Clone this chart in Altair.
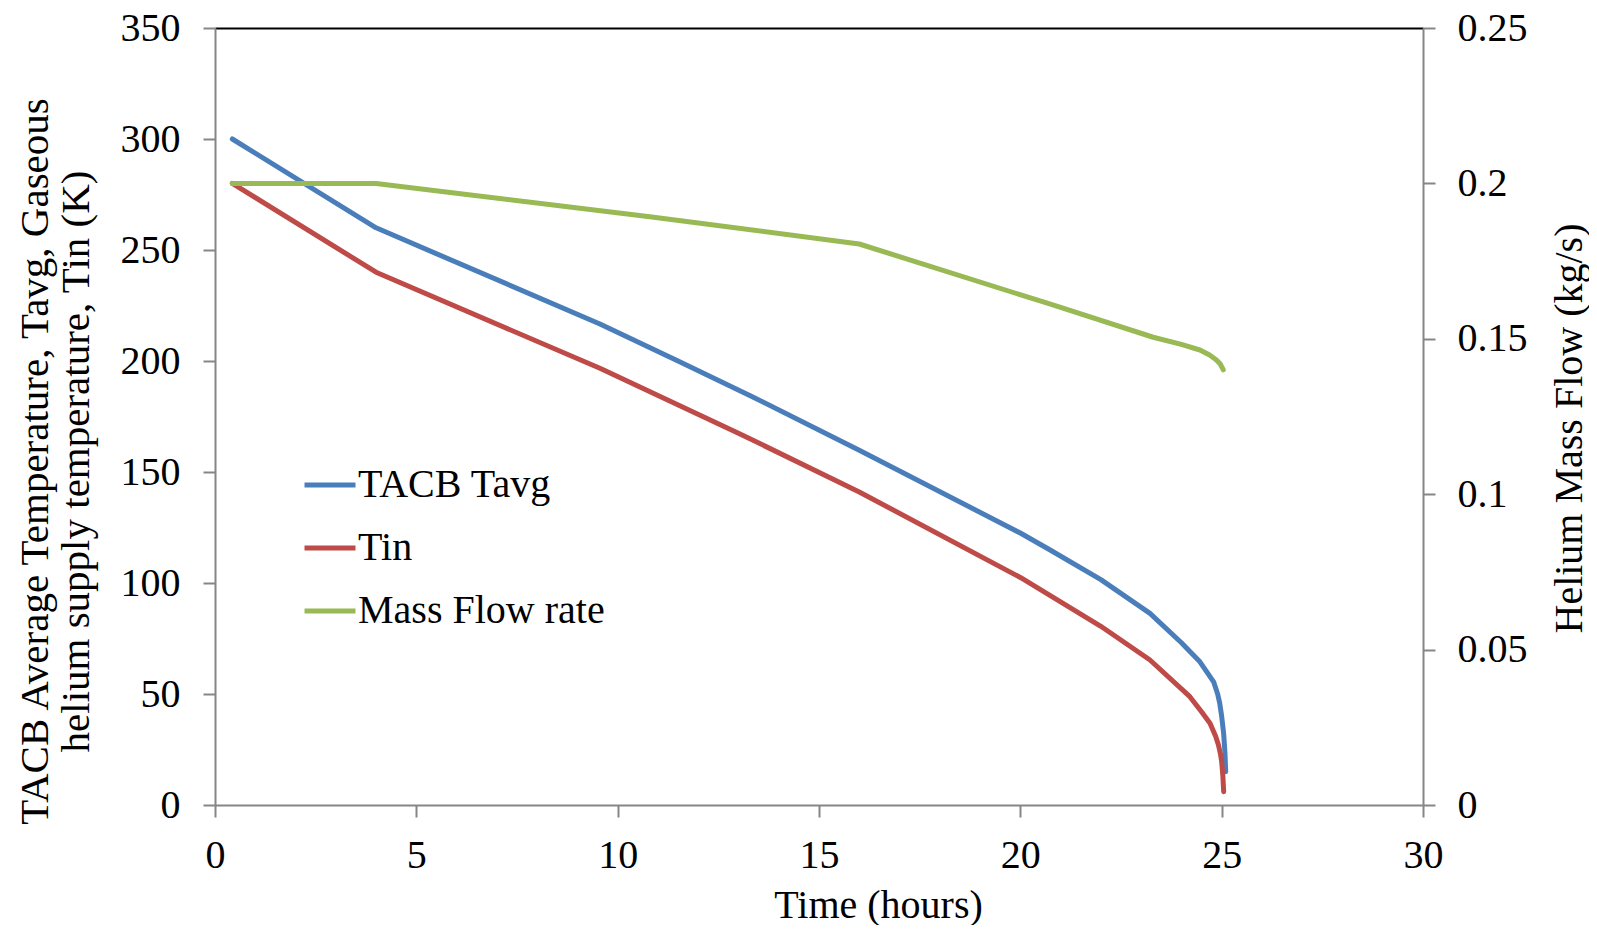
import altair as alt
import pandas as pd

# ---- data ----
t_avg_hours = [0.43, 4.0, 9.56, 11.5, 13.28, 16.0, 20.0, 20.73, 22.0, 23.22, 24.0, 24.46, 24.8, 24.9, 24.95, 25.0, 25.05, 25.08, 25.1]
t_avg_vals  = [300, 260, 216.7, 200, 184.5, 159.8, 122.5, 115, 101.5, 86.3, 73.1, 64.5, 55.5, 50.0, 46.0, 40.0, 32.0, 24.0, 15.0]

t_in_hours = [0.43, 4.0, 9.56, 13.0, 16.0, 20.0, 22.0, 23.22, 24.21, 24.5, 24.71, 24.85, 24.92, 24.97, 25.0, 25.03, 25.05]
t_in_vals  = [280, 240, 196.7, 167.5, 141.0, 102.5, 80.5, 65.3, 48.8, 42.0, 36.8, 31.0, 27.0, 23.0, 19.5, 13.0, 6.0]

flow_hours = [0.43, 4.0, 10.8, 16.0, 20.73, 23.3, 24.0, 24.46, 24.7, 24.87, 24.97, 25.04]
flow_vals  = [0.2, 0.2, 0.1893, 0.1805, 0.1612, 0.1505, 0.1482, 0.1464, 0.1448, 0.1432, 0.1418, 0.140]

series_names = ["TACB Tavg", "Tin", "Mass Flow rate"]
series_colors = ["#4A7EBB", "#BE4B48", "#98B954"]

x_ticks = [0, 5, 10, 15, 20, 25, 30]
left_ticks = [0, 50, 100, 150, 200, 250, 300, 350]
right_ticks = [0, 0.05, 0.1, 0.15, 0.2, 0.25]

temp_df = pd.concat([
    pd.DataFrame({"hours": t_avg_hours, "value": t_avg_vals, "series": series_names[0], "order": range(len(t_avg_hours))}),
    pd.DataFrame({"hours": t_in_hours, "value": t_in_vals, "series": series_names[1], "order": range(len(t_in_hours))}),
])
flow_df = pd.DataFrame({"hours": flow_hours, "flow": flow_vals, "series": series_names[2], "order": range(len(flow_hours))})

FONT = "Liberation Serif"
GRAY = "#868686"
FS = 40

color = alt.Color(
    "series:N",
    scale=alt.Scale(domain=series_names, range=series_colors),
    legend=alt.Legend(
        title=None, orient="none", legendX=87, legendY=429,
        symbolType="stroke", symbolSize=2600, symbolStrokeWidth=5,
        labelFont=FONT, labelFontSize=FS, labelColor="black", labelLimit=0,
        labelOffset=0, rowPadding=15, padding=0,
    ),
)

x_bottom = alt.X(
    "hours:Q",
    scale=alt.Scale(domain=[0, 30], nice=False),
    axis=alt.Axis(
        values=x_ticks, title="Time (hours)", grid=False, labelFlush=False,
        tickSize=12, tickColor=GRAY, tickWidth=2, domainColor=GRAY, domainWidth=2,
        labelFont=FONT, labelFontSize=FS, labelColor="black", labelPadding=18,
        titleFont=FONT, titleFontSize=FS, titleFontWeight="normal", titleColor="black",
        titleX=663, titleY=112, titleBaseline="alphabetic",
    ),
)

x_top = alt.X(
    "hours:Q",
    scale=alt.Scale(domain=[0, 30], nice=False),
    axis=alt.Axis(
        orient="top", title=None, labels=False, ticks=False, grid=False,
        domainColor="black", domainWidth=2,
    ),
)

temp = alt.Chart(temp_df).mark_line(strokeWidth=5, strokeCap="round", strokeJoin="round").encode(
    x=x_bottom,
    y=alt.Y(
        "value:Q",
        scale=alt.Scale(domain=[0, 350], nice=False),
        axis=alt.Axis(
            values=left_ticks, orient="left", grid=False, labelFlush=False,
            title=["TACB Average Temperature, Tavg, Gaseous", "helium supply temperature, Tin (K)"],
            tickSize=12, tickColor=GRAY, tickWidth=2, domainColor=GRAY, domainWidth=2,
            labelFont=FONT, labelFontSize=FS, labelColor="black", labelPadding=23,
            titleFont=FONT, titleFontSize=41, titleFontWeight="normal", titleColor="black",
            titleAngle=270, titleBaseline="middle", titleAlign="center",
            titleX=-180, titleY=433, titleLineHeight=41,
        ),
    ),
    color=color,
    order="order:Q",
)

flow = alt.Chart(flow_df).mark_line(strokeWidth=5, strokeCap="round", strokeJoin="round").encode(
    x=x_top,
    y=alt.Y(
        "flow:Q",
        scale=alt.Scale(domain=[0, 0.25], nice=False),
        axis=alt.Axis(
            values=right_ticks, orient="right", grid=False, format="~g", labelFlush=False,
            title="Helium Mass Flow (kg/s)",
            tickSize=12, tickColor=GRAY, tickWidth=2, domainColor=GRAY, domainWidth=2,
            labelFont=FONT, labelFontSize=FS, labelColor="black", labelPadding=22,
            titleFont=FONT, titleFontSize=FS, titleFontWeight="normal", titleColor="black",
            titleAngle=270, titleBaseline="middle", titleAlign="center",
            titleX=146, titleY=400,
        ),
    ),
    color=color,
    order="order:Q",
)

chart = alt.layer(temp, flow).resolve_scale(y="independent").resolve_axis(x="independent").properties(
    width=1208, height=777,
    autosize=alt.AutoSizeParams(type="none"),
    padding={"left": 207, "top": 20, "right": 166, "bottom": 120},
).configure_view(stroke=None).configure(background="white")

chart.save("out.html", embed_options={"renderer": "svg", "actions": False})
